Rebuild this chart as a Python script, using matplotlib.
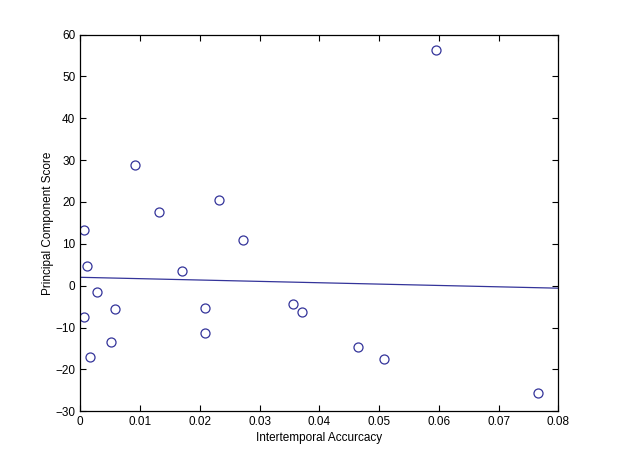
import matplotlib
matplotlib.use("Agg")
import matplotlib.pyplot as plt

# punten gelezen uit de figuur
accuracy = [0.0596, 0.0091, 0.0131, 0.0232, 0.0272, 0.0007, 0.0012, 0.0171,
            0.0028, 0.0059, 0.0006, 0.0052, 0.0016, 0.0208, 0.0208, 0.0356,
            0.0371, 0.0465, 0.0509, 0.0766]
score = [56.3, 28.9, 17.6, 20.5, 10.9, 13.3, 4.7, 3.6,
         -1.4, -5.5, -7.4, -13.4, -17.0, -5.3, -11.2, -4.4,
         -6.4, -14.6, -17.5, -25.7]

# regressielijn (eindpunten)
fit_x = [0.0, 0.08]
fit_y = [2.0, -0.6]

xticks = [0, 0.01, 0.02, 0.03, 0.04, 0.05, 0.06, 0.07, 0.08]
xticklabels = ["0", "0.01", "0.02", "0.03", "0.04", "0.05", "0.06", "0.07", "0.08"]
yticks = [-30, -20, -10, 0, 10, 20, 30, 40, 50, 60]

plt.rcParams['font.family'] = ['Liberation Sans', 'DejaVu Sans']

fig = plt.figure(figsize=(6.17, 4.62), dpi=100)
ax = fig.add_axes([0.13, 0.11, 0.775, 0.815])

ax.plot(accuracy, score, 'o', markerfacecolor='none', markeredgecolor='#34349a',
        markersize=6.5, markeredgewidth=0.9)
ax.plot(fit_x, fit_y, '-', color='#34349a', linewidth=0.9)

ax.set_xlim(0, 0.08)
ax.set_ylim(-30, 60)
ax.set_xticks(xticks)
ax.set_xticklabels(xticklabels)
ax.set_yticks(yticks)
ax.tick_params(direction='in', top=True, right=True, length=4.5, labelsize=8.5, width=0.8)
for s in ax.spines.values():
    s.set_linewidth(0.9)

ax.set_xlabel('Intertemporal Accurcacy', fontsize=8.5, labelpad=3)
ax.set_ylabel('Principal Component Score', fontsize=8.5, labelpad=1)

fig.savefig('out.png', dpi=100)
